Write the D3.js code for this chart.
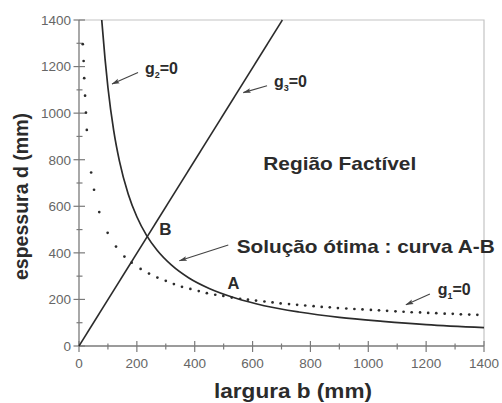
<!DOCTYPE html>
<html>
<head>
<meta charset="utf-8">
<script src="https://cdn.jsdelivr.net/npm/d3@7"></script>
<style>
    body { margin: 0; background: #fff; }
    svg text { font-family: "Liberation Sans", Arial, Helvetica, sans-serif; }
</style>
</head>
<body>
<div id="chart"></div>
<script>
// ticks
const xTicks = [0, 200, 400, 600, 800, 1000, 1200, 1400];
const yTicks = [0, 200, 400, 600, 800, 1000, 1200, 1400];
const minorTicks = [100, 300, 500, 700, 900, 1100, 1300];

// g1 = 0 (dotted), read dot by dot
const g1B = [13, 16, 18, 21, 24, 27, 42, 52, 70, 99, 128, 157, 182, 213, 242, 271, 300, 328, 356, 385,
    414, 442, 471, 499, 528, 557, 584, 612, 641, 669, 697, 726, 754, 782, 811, 839, 867, 895, 924,
    952, 980, 1009, 1037, 1065, 1094, 1122, 1150, 1179, 1207, 1235, 1264, 1292, 1320, 1349, 1377];
const g1D = [1296, 1224, 1150, 1075, 1002, 928, 745, 671, 575, 486, 427, 384, 358, 331, 311, 294, 280, 266, 254, 245,
    236, 227, 220, 215, 208, 203, 199, 195, 191, 187, 183, 180, 177, 174, 171, 168, 166, 163, 161,
    159, 157, 155, 153, 151, 149, 147, 145, 144, 142, 141, 139, 138, 136, 135, 134];

// g2 = 0 (solid curve)
const g2B = [78.6, 90, 100, 120, 140, 170, 200, 234, 270, 320, 380, 450, 540, 640, 760, 900, 1050, 1200, 1400];
const g2D = [1400, 1233, 1110, 925, 793, 653, 555, 474, 411, 347, 292, 247, 206, 173, 146, 123, 106, 92, 79];

// g3 = 0 (straight line)
const g3B = [0, 703];
const g3D = [0, 1400];

const svgW = 502, svgH = 403;
const margin = { top: 20, right: 18, bottom: 57, left: 79 };
const width = svgW - margin.left - margin.right;
const height = svgH - margin.top - margin.bottom;

const svg = d3.select("#chart").append("svg")
    .attr("width", svgW)
    .attr("height", svgH);

const x = d3.scaleLinear().domain([0, 1400]).range([margin.left, margin.left + width]);
const y = d3.scaleLinear().domain([0, 1400]).range([margin.top + height, margin.top]);

const axisColor = "#7a7a7a";
const inkColor = "#2b2b2b";

// frame top / right
svg.append("path")
    .attr("d", `M${x(0)},${y(1400)}H${x(1400)}V${y(0)}`)
    .attr("fill", "none")
    .attr("stroke", "#c4c4c4")
    .attr("stroke-width", 1.2);

// x axis
const xAxis = svg.append("g");
xAxis.append("line")
    .attr("x1", x(0)).attr("x2", x(1400))
    .attr("y1", y(0)).attr("y2", y(0))
    .attr("stroke", axisColor).attr("stroke-width", 1.3);
xAxis.selectAll(".major").data(xTicks).join("line")
    .attr("x1", d => x(d)).attr("x2", d => x(d))
    .attr("y1", y(0) - 5).attr("y2", y(0) + 6)
    .attr("stroke", axisColor).attr("stroke-width", 1.2);
xAxis.selectAll(".minor").data(minorTicks).join("line")
    .attr("x1", d => x(d)).attr("x2", d => x(d))
    .attr("y1", y(0) - 2.5).attr("y2", y(0) + 3.5)
    .attr("stroke", axisColor).attr("stroke-width", 1.2);
xAxis.selectAll("text").data(xTicks).join("text")
    .attr("x", d => x(d))
    .attr("y", y(0) + 22)
    .attr("text-anchor", "middle")
    .attr("font-size", 13.5)
    .attr("fill", "#666")
    .text(d => d);

// y axis
const yAxis = svg.append("g");
yAxis.append("line")
    .attr("x1", x(0)).attr("x2", x(0))
    .attr("y1", y(0)).attr("y2", y(1400))
    .attr("stroke", axisColor).attr("stroke-width", 1.3);
yAxis.selectAll(".major").data(yTicks).join("line")
    .attr("x1", x(0) - 5.5).attr("x2", x(0) + 6)
    .attr("y1", d => y(d)).attr("y2", d => y(d))
    .attr("stroke", axisColor).attr("stroke-width", 1.2);
yAxis.selectAll(".minor").data(minorTicks).join("line")
    .attr("x1", x(0) - 2.5).attr("x2", x(0) + 3.5)
    .attr("y1", d => y(d)).attr("y2", d => y(d))
    .attr("stroke", axisColor).attr("stroke-width", 1.2);
yAxis.selectAll("text").data(yTicks).join("text")
    .attr("x", x(0) - 8)
    .attr("y", d => y(d))
    .attr("dy", "0.36em")
    .attr("text-anchor", "end")
    .attr("font-size", 13.5)
    .attr("fill", "#666")
    .text(d => d);

// axis titles
svg.append("text")
    .attr("x", 293)
    .attr("y", 398)
    .attr("text-anchor", "middle")
    .attr("font-size", 21)
    .attr("font-weight", "bold")
    .attr("fill", inkColor)
    .attr("textLength", 158)
    .attr("lengthAdjust", "spacingAndGlyphs")
    .text("largura b (mm)");

svg.append("text")
    .attr("transform", `translate(28,${(113 + 280) / 2}) rotate(-90)`)
    .attr("text-anchor", "middle")
    .attr("font-size", 19.5)
    .attr("font-weight", "bold")
    .attr("fill", inkColor)
    .attr("textLength", 167)
    .attr("lengthAdjust", "spacingAndGlyphs")
    .text("espessura d (mm)");

// curves
const line = d3.line().x(d => x(d[0])).y(d => y(d[1]));

svg.append("path")
    .datum(g2B.map((b, i) => [b, g2D[i]]))
    .attr("d", line.curve(d3.curveMonotoneX))
    .attr("fill", "none")
    .attr("stroke", inkColor)
    .attr("stroke-width", 1.7);

svg.append("path")
    .datum(g3B.map((b, i) => [b, g3D[i]]))
    .attr("d", d3.line().x(d => x(d[0])).y(d => y(d[1])))
    .attr("fill", "none")
    .attr("stroke", inkColor)
    .attr("stroke-width", 1.5);

svg.append("g").selectAll("circle")
    .data(g1B.map((b, i) => [b, g1D[i]]))
    .join("circle")
    .attr("cx", d => x(d[0]))
    .attr("cy", d => y(d[1]))
    .attr("r", 1.35)
    .attr("fill", inkColor);

// arrow marker
svg.append("defs").append("marker")
    .attr("id", "arrow")
    .attr("viewBox", "0 -3 8 6")
    .attr("refX", 7.5).attr("refY", 0)
    .attr("markerUnits", "userSpaceOnUse")
    .attr("markerWidth", 8).attr("markerHeight", 6)
    .attr("orient", "auto")
    .append("path")
    .attr("d", "M0,-2.4L8,0L0,2.4L1.5,0Z")
    .attr("fill", "#444");

// annotations (data coordinates)
const arrows = [
    { from: [204, 1175], to: [114, 1125] },
    { from: [650, 1118], to: [568, 1088] },
    { from: [516, 434], to: [347, 366] },
    { from: [1213, 223], to: [1130, 177] }
];
svg.append("g").selectAll("line").data(arrows).join("line")
    .attr("x1", d => x(d.from[0])).attr("y1", d => y(d.from[1]))
    .attr("x2", d => x(d.to[0])).attr("y2", d => y(d.to[1]))
    .attr("stroke", "#444")
    .attr("stroke-width", 1.1)
    .attr("marker-end", "url(#arrow)");

function gLabel(b, d, sub) {
    const t = svg.append("text")
        .attr("x", x(b)).attr("y", y(d))
        .attr("font-size", 16)
        .attr("font-weight", "bold")
        .attr("fill", inkColor);
    t.append("tspan").text("g");
    t.append("tspan").attr("font-size", 9).attr("dy", 4).text(sub);
    t.append("tspan").attr("dy", -4).text("=0");
}
gLabel(228, 1170, "2");
gLabel(674, 1114, "3");
gLabel(1240, 219, "1");

svg.append("text")
    .attr("x", x(637)).attr("y", y(756))
    .attr("font-size", 18.5)
    .attr("font-weight", "bold")
    .attr("fill", inkColor)
    .attr("textLength", 153)
    .attr("lengthAdjust", "spacingAndGlyphs")
    .text("Região Factível");

svg.append("text")
    .attr("x", x(545)).attr("y", y(398))
    .attr("font-size", 18.5)
    .attr("font-weight", "bold")
    .attr("fill", inkColor)
    .attr("textLength", 258)
    .attr("lengthAdjust", "spacingAndGlyphs")
    .text("Solução ótima : curva A-B");

svg.append("text")
    .attr("x", x(277)).attr("y", y(477))
    .attr("font-size", 17)
    .attr("font-weight", "bold")
    .attr("fill", inkColor)
    .text("B");

svg.append("text")
    .attr("x", x(513)).attr("y", y(243))
    .attr("font-size", 16.5)
    .attr("font-weight", "bold")
    .attr("fill", inkColor)
    .text("A");
</script>
</body>
</html>
